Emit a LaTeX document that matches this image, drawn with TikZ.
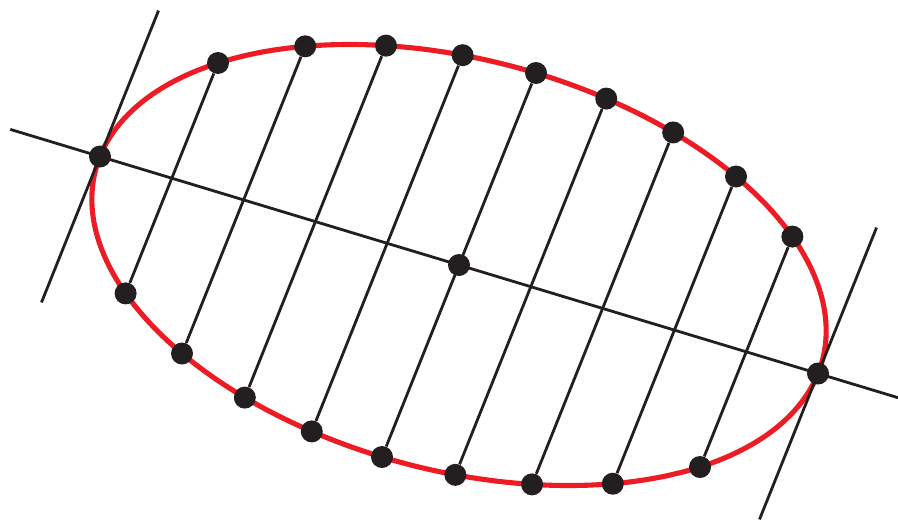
\documentclass[tikz,border=0pt]{standalone}
\usetikzlibrary{calc,backgrounds}
\definecolor{ered}{HTML}{ED1C24}
\definecolor{ink}{HTML}{231F20}
\begin{document}
\begin{tikzpicture}[x=0.02cm,y=-0.02cm,
  dot/.style={circle,fill=ink,inner sep=0pt,minimum size=0.44cm},
  chord/.style={draw=ink,line width=1.6pt},
  curve/.style={draw=ered,line width=2.9pt}]
\useasboundingbox (0,0) rectangle (898,521);
\coordinate (C) at (459,265);
\coordinate (A) at (359,108.5);
\coordinate (B) at (77,-192);
% points on the ellipse
\node[dot] (P) at ($(C)-1*(A)$) {};
\node[dot] (Q) at ($(C)+1*(A)$) {};
\node[dot] (M) at (C) {};
\foreach \k/\c/\s in {1/-0.8/0.6, 2/-0.6/0.8, 3/-0.4/0.9165, 4/-0.2/0.9798, 5/0/1,
                      6/0.2/0.9798, 7/0.4/0.9165, 8/0.6/0.8, 9/0.8/0.6} {
  \node[dot] (u\k) at ($(C)+\c*(A)+\s*(B)$) {};
  \node[dot] (l\k) at ($(C)+\c*(A)-\s*(B)$) {};
}
\coordinate (d1) at ($(C)-1.25*(A)$);
\coordinate (d2) at ($(C)+1.25*(A)$);
\coordinate (t1) at ($(P)+0.76*(B)$);
\coordinate (t2) at ($(P)-0.76*(B)$);
\coordinate (t3) at ($(Q)+0.76*(B)$);
\coordinate (t4) at ($(Q)-0.76*(B)$);
\begin{pgfonlayer}{background}
  \draw[curve] plot[domain=0:360,samples=241,variable=\t]
    ({459+359*cos(\t)+77*sin(\t)},{265+108.5*cos(\t)-192*sin(\t)}) -- cycle;
  \foreach \k in {1,...,9} \draw[chord] (u\k) -- (l\k);
  \draw[chord] (d1) -- (d2);
  \draw[chord] (t1) -- (t2);
  \draw[chord] (t3) -- (t4);
\end{pgfonlayer}
\end{tikzpicture}
\end{document}
